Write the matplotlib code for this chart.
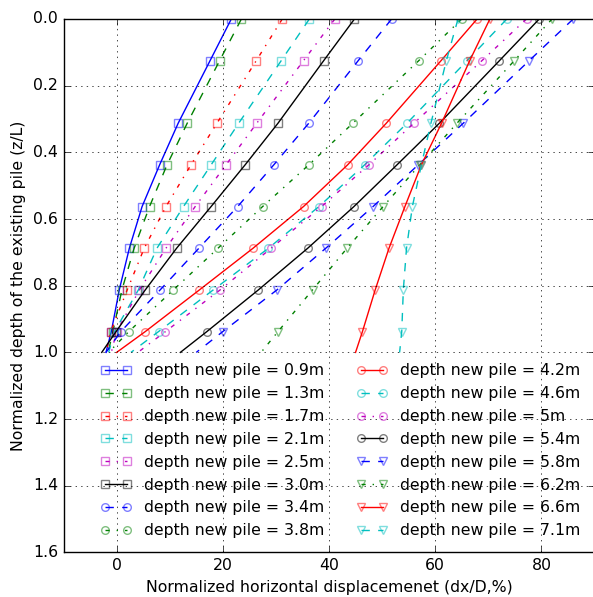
import matplotlib
matplotlib.use("Agg")
from matplotlib import pyplot as plt
from matplotlib.colors import to_rgba

plt.style.use("classic")
plt.rcParams["font.size"] = 11.3

# normalized depth z/L where displacements were read
depths = [0, 0.125, 0.3125, 0.4375, 0.5625, 0.6875, 0.8125, 0.9375, 1.0]

labels = ["0.9m", "1.3m", "1.7m", "2.1m", "2.5m", "3.0m", "3.4m", "3.8m",
          "4.2m", "4.6m", "5m", "5.4m", "5.8m", "6.2m", "6.6m", "7.1m"]

d_09 = [21.6, 17.6, 11.6, 8.1, 4.8, 2.4, 0.5, -1.0, -2.0]
d_13 = [23.5, 19.4, 13.3, 9.5, 6.2, 3.3, 1.0, -0.7, -1.6]
d_17 = [31.2, 26.3, 18.9, 14.0, 9.3, 5.2, 2.0, -1.1, -2.0]
d_21 = [36.3, 31.0, 23.0, 17.8, 12.6, 7.6, 4.1, -0.4, -1.5]
d_25 = [41.1, 35.2, 26.4, 20.6, 14.8, 9.3, 4.3, 0.0, -1.0]
d_30 = [44.8, 39.0, 30.4, 24.2, 17.8, 11.3, 5.4, -0.1, -2.8]
d_34 = [51.8, 45.5, 36.2, 29.6, 22.8, 15.5, 8.2, 0.8, -2.0]
d_38 = [65.0, 56.9, 44.5, 36.2, 27.5, 19.1, 10.7, 2.3, -1.5]
d_42 = [67.9, 61.1, 50.8, 43.5, 35.2, 25.7, 15.6, 5.4, 0.0]
d_46 = [73.5, 66.0, 54.7, 46.7, 38.1, 28.6, 18.2, 7.9, 2.7]
d_50 = [77.2, 68.8, 56.0, 47.5, 38.6, 29.1, 19.5, 9.2, 4.0]
d_54 = [79.6, 72.1, 60.8, 52.8, 44.7, 36.0, 26.7, 17.0, 12.0]
d_58 = [86.0, 77.7, 65.3, 56.8, 48.3, 39.4, 30.2, 20.0, 15.0]
d_62 = [82.0, 74.9, 64.1, 57.1, 50.2, 43.4, 36.9, 30.4, 27.2]
d_66 = [70.3, 66.5, 61.2, 57.4, 54.3, 51.3, 48.7, 46.3, 45.0]
d_71 = [64.3, 62.1, 59.2, 57.4, 55.7, 54.6, 54.0, 53.7, 53.3]

series = [d_09, d_13, d_17, d_21, d_25, d_30, d_34, d_38,
          d_42, d_46, d_50, d_54, d_58, d_62, d_66, d_71]

colors = ["b", "g", "r", "c", "m", "k"] * 3
lstyles = ["-", "--", "-.", "--", "-.", "-", "--", "-.",
           "-", "--", "-.", "-", "--", "-.", "-", "--"]
markers = ["s"] * 6 + ["o"] * 6 + ["v"] * 4

fig = plt.figure(figsize=(5.93, 5.97), dpi=100)
ax = fig.add_axes([0.1071, 0.0746, 0.8954, 0.8936])

for i in range(len(series)):
    c = colors[i]
    ax.plot(series[i], depths, color=c, linestyle=lstyles[i], linewidth=1.0,
            marker=markers[i], markersize=5.5, markerfacecolor="none",
            markeredgecolor=to_rgba(c, 0.5), markeredgewidth=1.0,
            markevery=list(range(len(depths) - 1)),
            label="depth new pile = " + labels[i])

ax.set_xlim(-10, 90)
ax.set_ylim(1.6, 0.0)
ax.set_xticks([0, 20, 40, 60, 80])
ax.set_yticks([0.0, 0.2, 0.4, 0.6, 0.8, 1.0, 1.2, 1.4, 1.6])
ax.grid(True)
ax.set_xlabel("Normalized horizontal displacemenet (dx/D,%)")
ax.set_ylabel("Normalized depth of the existing pile (z/L)")

ax.legend(loc="lower right", ncol=2, frameon=False, numpoints=2,
          fontsize=11.3)

fig.savefig("out.png", dpi=100)
